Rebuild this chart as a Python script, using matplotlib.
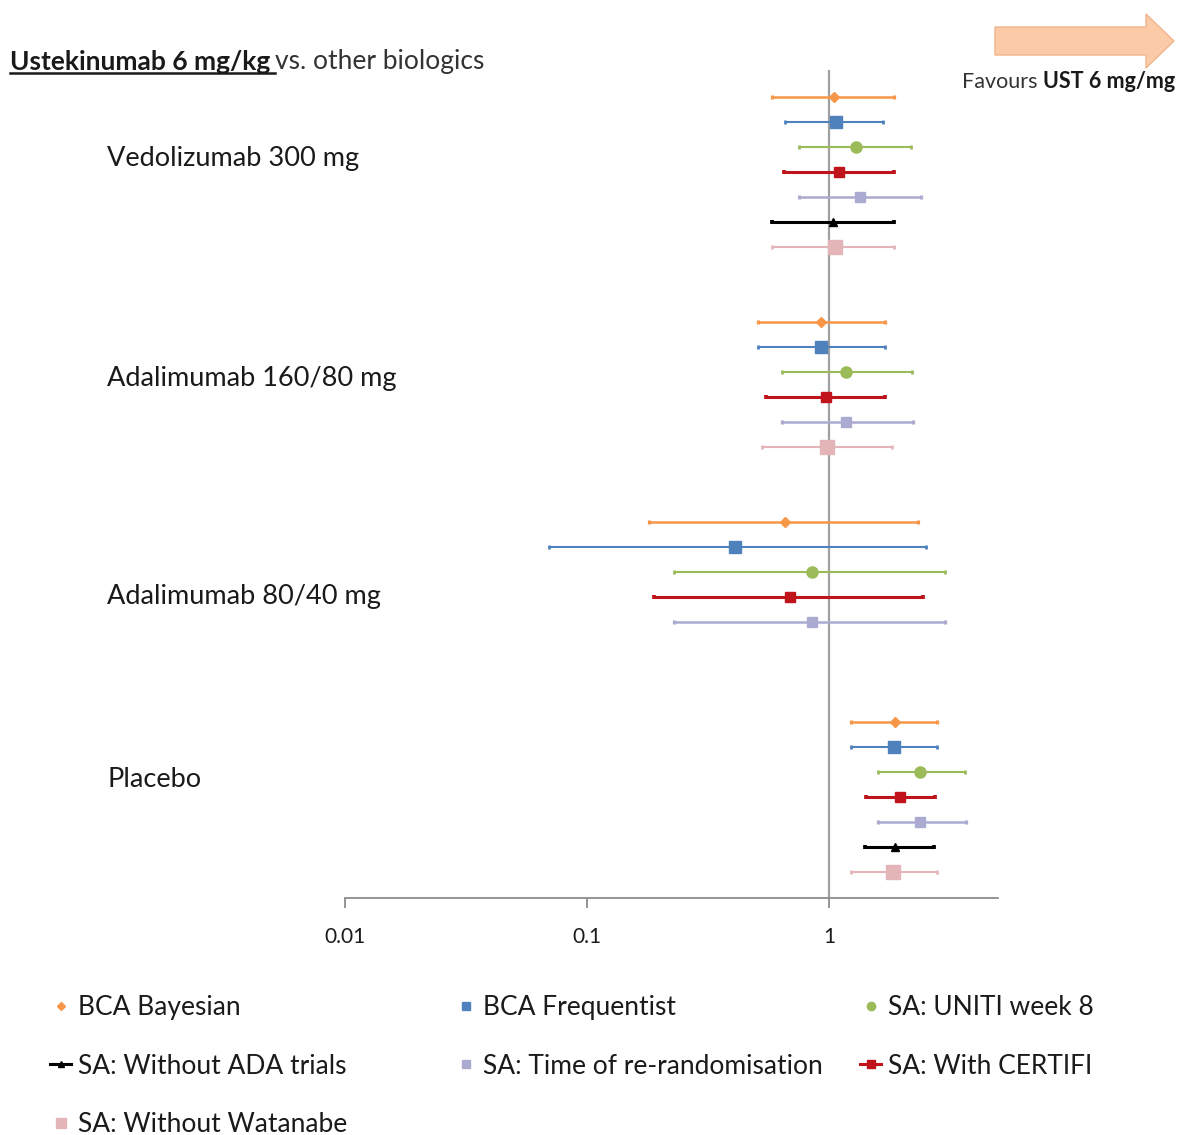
import numpy as np
import matplotlib
matplotlib.use("Agg")
import matplotlib.pyplot as plt
import matplotlib.ticker as mticker
import matplotlib.transforms as mtrans
from matplotlib.lines import Line2D
from matplotlib.patches import FancyArrow

plt.rcParams['font.family'] = ['Lato', 'DejaVu Sans']

# ---- data ----
groups = ["Vedolizumab 300 mg", "Adalimumab 160/80 mg", "Adalimumab 80/40 mg", "Placebo"]

series = ["BCA Bayesian", "BCA Frequentist", "SA: UNITI week 8", "SA: With CERTIFI",
          "SA: Time of re-randomisation", "SA: Without ADA trials", "SA: Without Watanabe"]

bayes_est = [1.05, 0.93, 0.66, 1.87]
bayes_lo = [0.58, 0.51, 0.18, 1.24]
bayes_hi = [1.86, 1.71, 2.34, 2.81]

freq_est = [1.07, 0.93, 0.41, 1.86]
freq_lo = [0.66, 0.51, 0.07, 1.24]
freq_hi = [1.67, 1.71, 2.52, 2.81]

uniti_est = [1.29, 1.18, 0.85, 2.38]
uniti_lo = [0.75, 0.64, 0.23, 1.60]
uniti_hi = [2.18, 2.21, 3.02, 3.65]

certifi_est = [1.10, 0.97, 0.69, 1.97]
certifi_lo = [0.65, 0.55, 0.19, 1.42]
certifi_hi = [1.86, 1.71, 2.44, 2.74]

rerand_est = [1.34, 1.18, 0.85, 2.39]
rerand_lo = [0.75, 0.64, 0.23, 1.59]
rerand_hi = [2.40, 2.22, 3.02, 3.68]

noada_est = [1.04, None, None, 1.87]
noada_lo = [0.58, None, None, 1.41]
noada_hi = [1.86, None, None, 2.72]

watanabe_est = [1.06, 0.98, None, 1.84]
watanabe_lo = [0.58, 0.53, None, 1.24]
watanabe_hi = [1.86, 1.83, None, 2.81]

xticks = [0.01, 0.1, 1]
xtick_labels = ["0.01", "0.1", "1"]

# ---- styles ----
est = [bayes_est, freq_est, uniti_est, certifi_est, rerand_est, noada_est, watanabe_est]
lo = [bayes_lo, freq_lo, uniti_lo, certifi_lo, rerand_lo, noada_lo, watanabe_lo]
hi = [bayes_hi, freq_hi, uniti_hi, certifi_hi, rerand_hi, noada_hi, watanabe_hi]
colors = ['#F79646', '#4F81BD', '#9BBB59', '#C0141C', '#ABABD2', '#000000', '#E3B5B9']
markers = ['D', 's', 'o', 's', 's', '^', 's']
msizes = [5, 8, 8, 7.5, 7.5, 6, 9.5]
lwidths = [1.8, 1.5, 1.5, 2.2, 1.8, 2.2, 1.5]
group_gap = [2, 2, 3, 0]
label_off = [2.45, 2.25, 3.0, 2.3]
txt = '#1a1a1a'

W, H = 1182, 1135
fig = plt.figure(figsize=(W / 100, H / 100), dpi=100)
ax = fig.add_axes([345 / W, 1 - 898 / H, (998 - 345) / W, (898 - 70) / H])
ax.set_xscale('log')
ax.set_xlim(0.01, 5)
ax.set_ylim(32.04, -1.08)

ax.axvline(1, color='#A0A0A0', lw=1.6, zorder=1)

lab_tr = mtrans.blended_transform_factory(fig.transFigure, ax.transData)
pos = 0
for g in range(len(groups)):
    row = pos
    for s in range(len(series)):
        if est[s][g] is None:
            continue
        e, l, h = est[s][g], lo[s][g], hi[s][g]
        ax.errorbar([e], [row], xerr=[[e - l], [h - e]], fmt=markers[s], color=colors[s],
                    ms=msizes[s], elinewidth=lwidths[s], capsize=1.5, capthick=lwidths[s] + 0.5,
                    zorder=3)
        row += 1
    ax.text(107 / W, pos + label_off[g], groups[g], fontsize=19.5, va='center', ha='left',
            color=txt, transform=lab_tr)
    pos = row + group_gap[g]

for side in ['left', 'right', 'top']:
    ax.spines[side].set_visible(False)
ax.spines['bottom'].set_color('#8C8C8C')
ax.spines['bottom'].set_linewidth(1.3)
ax.set_yticks([])
ax.set_xticks(xticks)
ax.set_xticklabels(xtick_labels)
ax.xaxis.set_minor_locator(mticker.NullLocator())
ax.tick_params(axis='x', length=7, width=1.3, color='#8C8C8C', labelsize=15, pad=14,
               labelcolor=txt)

# title with underlined bold part
t1 = fig.text(10 / W, 1 - 62 / H, "Ustekinumab 6 mg/kg", fontsize=19, fontweight='bold',
              va='center', ha='left', color=txt)
fig.canvas.draw()
bb = t1.get_window_extent(fig.canvas.get_renderer())
fig.text((bb.x1 + 5) / W, 1 - 62 / H, "vs. other biologics", fontsize=19, va='center',
         ha='left', color='#333333')
fig.add_artist(Line2D([bb.x0 / W, (bb.x1 + 5) / W], [(bb.y0 + 1) / H, (bb.y0 + 1) / H],
                      color=txt, lw=1.8, transform=fig.transFigure))

# favours arrow
fig.add_artist(FancyArrow(995 / W, 1 - 41 / H, (1174 - 995) / W, 0, width=28 / H,
                          head_width=54 / H, head_length=28 / W, length_includes_head=True,
                          transform=fig.transFigure, facecolor='#FBCBA8', edgecolor='#F2B48C',
                          lw=1))
t2 = fig.text(962 / W, 1 - 82 / H, "Favours ", fontsize=15.5, va='center', ha='left',
              color='#333333')
fig.canvas.draw()
bb2 = t2.get_window_extent(fig.canvas.get_renderer())
fig.text(bb2.x1 / W, 1 - 82 / H, "UST 6 mg/mg", fontsize=15.5, fontweight='bold', va='center',
         ha='left', color=txt)

# legend, three columns placed like the reference
handles = []
for s in range(len(series)):
    ls = '-' if s in (3, 5) else 'none'
    handles.append(Line2D([], [], color=colors[s], marker=markers[s], ms=msizes[s] * 0.75,
                          lw=lwidths[s], linestyle=ls))
cols = [[0, 5, 6], [1, 4], [2, 3]]
col_x = [50, 455, 860]
for c, idx in enumerate(cols):
    fig.legend([handles[i] for i in idx], [series[i] for i in idx], loc='upper left',
               bbox_to_anchor=(col_x[c] / W, 1 - 995 / H), frameon=False, fontsize=19,
               handlelength=0.8, handletextpad=0.25, labelspacing=1.27, borderpad=0,
               borderaxespad=0, labelcolor=txt)

fig.savefig("out.png", dpi=100, facecolor='white')
